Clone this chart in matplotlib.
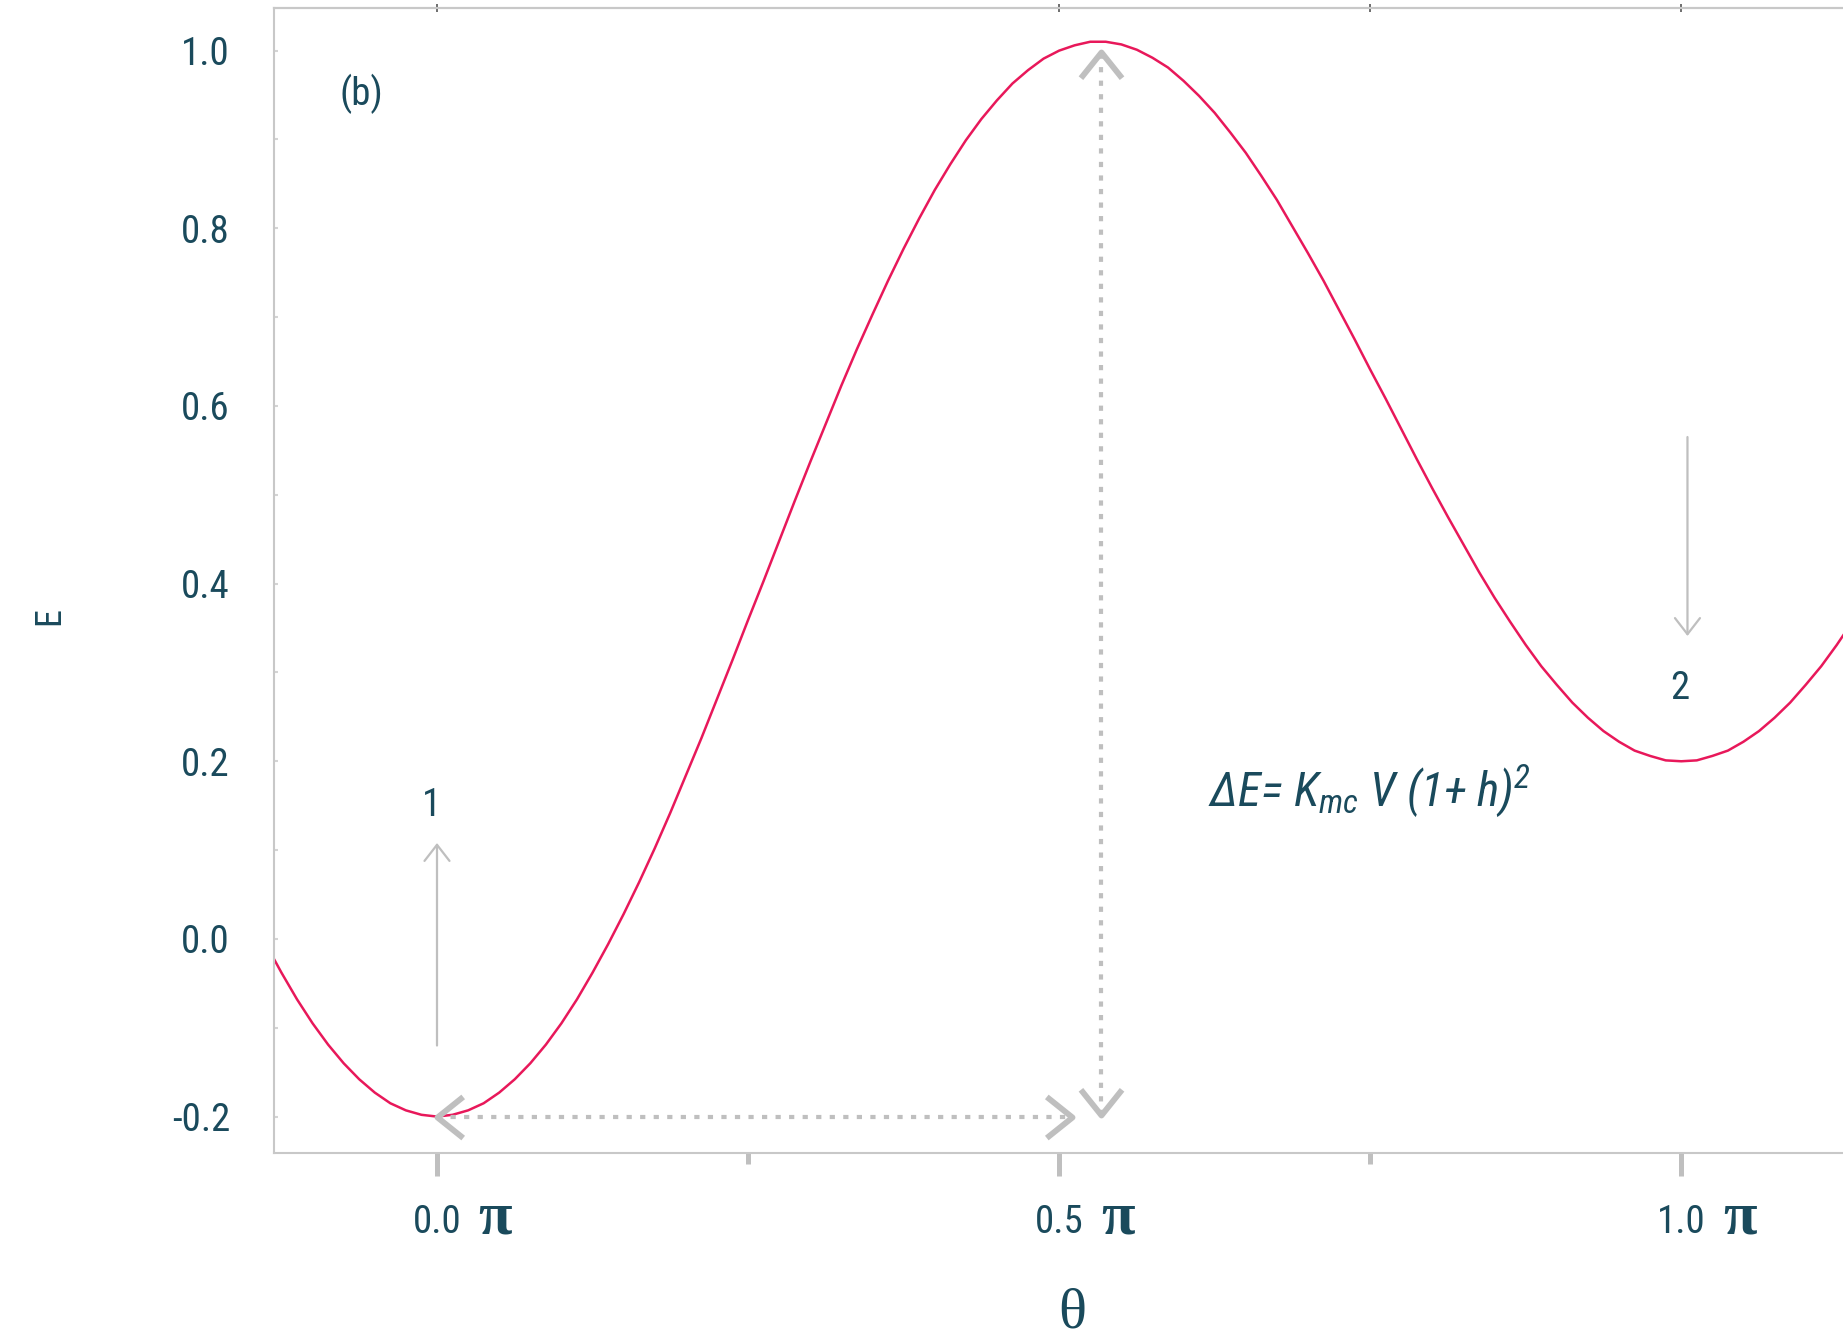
import matplotlib
matplotlib.use('Agg')
import matplotlib.pyplot as plt
from matplotlib import font_manager
from matplotlib.path import Path

# angle in units of pi and the energy
theta = [-0.1500, -0.1375, -0.1250, -0.1125, -0.1000, -0.0875, -0.0750, -0.0625,
         -0.0500, -0.0375, -0.0250, -0.0125, 0.0000, 0.0125, 0.0250, 0.0375,
         0.0500, 0.0625, 0.0750, 0.0875, 0.1000, 0.1125, 0.1250, 0.1375,
         0.1500, 0.1625, 0.1750, 0.1875, 0.2000, 0.2125, 0.2250, 0.2375,
         0.2500, 0.2625, 0.2750, 0.2875, 0.3000, 0.3125, 0.3250, 0.3375,
         0.3500, 0.3625, 0.3750, 0.3875, 0.4000, 0.4125, 0.4250, 0.4375,
         0.4500, 0.4625, 0.4750, 0.4875, 0.5000, 0.5125, 0.5250, 0.5375,
         0.5500, 0.5625, 0.5750, 0.5875, 0.6000, 0.6125, 0.6250, 0.6375,
         0.6500, 0.6625, 0.6750, 0.6875, 0.7000, 0.7125, 0.7250, 0.7375,
         0.7500, 0.7625, 0.7750, 0.7875, 0.8000, 0.8125, 0.8250, 0.8375,
         0.8500, 0.8625, 0.8750, 0.8875, 0.9000, 0.9125, 0.9250, 0.9375,
         0.9500, 0.9625, 0.9750, 0.9875, 1.0000, 1.0125, 1.0250, 1.0375,
         1.0500, 1.0625, 1.0750, 1.0875, 1.1000, 1.1125, 1.1250, 1.1375,
         1.1500]
energy = [0.028, -0.006, -0.038, -0.068, -0.095, -0.119, -0.140, -0.158,
          -0.173, -0.185, -0.193, -0.198, -0.200, -0.198, -0.193, -0.185,
          -0.173, -0.158, -0.140, -0.119, -0.095, -0.068, -0.038, -0.006,
          0.028, 0.064, 0.102, 0.142, 0.184, 0.226, 0.270, 0.314,
          0.359, 0.403, 0.448, 0.493, 0.537, 0.580, 0.623, 0.664,
          0.703, 0.741, 0.777, 0.811, 0.843, 0.872, 0.899, 0.923,
          0.944, 0.963, 0.978, 0.991, 1.000, 1.006, 1.010, 1.010,
          1.007, 1.001, 0.992, 0.981, 0.966, 0.949, 0.930, 0.908,
          0.885, 0.859, 0.832, 0.802, 0.772, 0.741, 0.708, 0.675,
          0.641, 0.608, 0.574, 0.540, 0.507, 0.475, 0.444, 0.413,
          0.384, 0.357, 0.331, 0.307, 0.286, 0.266, 0.249, 0.234,
          0.222, 0.212, 0.206, 0.201, 0.200, 0.201, 0.206, 0.212,
          0.222, 0.234, 0.249, 0.266, 0.286, 0.307, 0.331, 0.357,
          0.384]

x_major = [0.0, 0.5, 1.0]
x_major_labels = ['0.0', '0.5', '1.0']
x_minor = [0.25, 0.75]
x_top = [0.0, 0.5, 0.75, 1.0]
y_major = [-0.2, 0.0, 0.2, 0.4, 0.6, 0.8, 1.0]
y_major_labels = ['-0.2', '0.0', '0.2', '0.4', '0.6', '0.8', '1.0']
y_minor = [-0.1, 0.1, 0.3, 0.5, 0.7, 0.9]

# barrier markers: horizontal span and vertical height
barrier_x = [0.0, 0.51]
barrier_level = -0.2
height_x = 0.534
height_y = [-0.198, 0.998]

# state arrows: (x, tail, tip, label, label_x, label_y)
state_arrows = [(0.0, -0.120, 0.108, '1', -0.004, 0.150),
                (1.005, 0.565, 0.341, '2', 0.999, 0.282)]

TEXT = '#1a4a5c'
CURVE = '#e8185a'
GREY = '#bfbfbf'
SPINE = '#c8c8c8'


def weight_of(entry):
    w = entry.weight
    if isinstance(w, str):
        w = font_manager.weight_dict.get(w, 400)
    return int(w)


# a narrow face in a regular or light weight if one is installed
sans, sans_weight = 'Open Sans', 400
found = False
for fam in ['Open Sans Condensed Light', 'Open Sans Condensed',
            'Roboto Condensed', 'Liberation Sans Narrow']:
    for f in font_manager.fontManager.ttflist:
        if f.name == fam and f.style == 'normal' and weight_of(f) <= 400:
            sans, sans_weight = fam, weight_of(f)
            found = True
            break
    if found:
        break
serif = 'Liberation Serif'

plt.rcParams['font.family'] = [sans, 'DejaVu Sans']
plt.rcParams['font.weight'] = sans_weight
plt.rcParams['mathtext.fontset'] = 'custom'
plt.rcParams['mathtext.it'] = sans + ':italic'
plt.rcParams['mathtext.rm'] = sans + ':italic'

W, H = 1843, 1340
fig = plt.figure(figsize=(W / 100, H / 100), dpi=100)
ax = fig.add_axes([274 / W, 1 - 1153 / H, 1 - 274 / W, (1153 - 8) / H])

ax.plot(theta, energy, color=CURVE, lw=1.8, solid_joinstyle='round')
ax.set_xlim(-0.131, 1.130)
ax.set_ylim(-0.241, 1.048)

# dotted guides with open chevron ends
dots = dict(color=GREY, lw=3.0, linestyle=(0, (1.25, 2.0)),
            dash_capstyle='butt')
ax.plot(barrier_x, [barrier_level, barrier_level], **dots)
ax.plot([height_x, height_x], height_y, **dots)

mv, lt = Path.MOVETO, Path.LINETO
chev = {
    'left': Path([(1.25, 1), (0, 0), (1.25, -1)], [mv, lt, lt]),
    'right': Path([(-1.25, 1), (0, 0), (-1.25, -1)], [mv, lt, lt]),
    'up': Path([(1, -1.25), (0, 0), (-1, -1.25)], [mv, lt, lt]),
    'down': Path([(1, 1.25), (0, 0), (-1, 1.25)], [mv, lt, lt]),
}
ends = [(barrier_x[0], barrier_level, 'left'),
        (barrier_x[1], barrier_level, 'right'),
        (height_x, height_y[0], 'down'),
        (height_x, height_y[1], 'up')]
for x, y, d in ends:
    ax.plot([x], [y], marker=chev[d], ms=37, mew=4.2, mec=GREY, mfc='none',
            linestyle='none')

for x, tail, tip, lab, lx, ly in state_arrows:
    ax.annotate('', xy=(x, tip), xytext=(x, tail),
                arrowprops=dict(arrowstyle='->,head_length=0.58,head_width=0.45',
                                mutation_scale=20, color=GREY, lw=1.6,
                                shrinkA=0, shrinkB=0))
    ax.text(lx, ly, lab, ha='center', va='center', fontsize=28, color=TEXT)

ax.text(-0.061, 0.951, '(b)', ha='center', va='center', fontsize=28,
        color=TEXT)
ax.text(0.620, 0.150, 'ΔE= K$_{mc}$ V (1+ h)$^{2}$', ha='left',
        va='baseline', fontsize=34, style='italic', color=TEXT)

# axes styling
for side in ['left', 'bottom', 'top']:
    ax.spines[side].set_color(SPINE)
    ax.spines[side].set_linewidth(1.5)
ax.spines['right'].set_visible(False)

ax.set_xticks(x_major)
ax.set_xticklabels(x_major_labels)
ax.set_xticks(x_minor, minor=True)
ax.tick_params(axis='x', which='major', direction='out', length=16.5,
               width=3.6, color=GREY, pad=20, labelsize=28, labelcolor=TEXT)
ax.tick_params(axis='x', which='minor', direction='out', length=8,
               width=3.6, color=GREY)

ax.set_yticks(y_major)
ax.set_yticklabels(y_major_labels)
ax.set_yticks(y_minor, minor=True)
ax.tick_params(axis='y', which='both', direction='in', length=3, width=1.5,
               color='#d4d4d4', pad=31.7, labelsize=28, labelcolor=TEXT)

for x in x_major:
    ax.annotate('π', xy=(x, 0), xycoords=('data', 'axes fraction'),
                xytext=(42, -57.6), textcoords='offset points',
                ha='center', va='baseline', fontsize=44,
                fontfamily=serif, fontweight='bold', color=TEXT)

top = ax.secondary_xaxis('top')
top.set_xticks(x_top)
top.tick_params(direction='inout', length=6, width=1.2, color='#555555',
                labeltop=False)
top.spines['top'].set_color(SPINE)
top.spines['top'].set_linewidth(1.5)

ax.set_xlabel('θ', fontsize=42, fontfamily=serif, fontweight='normal',
              color=TEXT, va='baseline')
ax.xaxis.set_label_coords(0.509, -0.1528)
ax.set_ylabel('E', fontsize=26, color=TEXT, va='center')
ax.yaxis.set_label_coords(-0.1434, 0.469)

fig.savefig('out.png', dpi=100)
